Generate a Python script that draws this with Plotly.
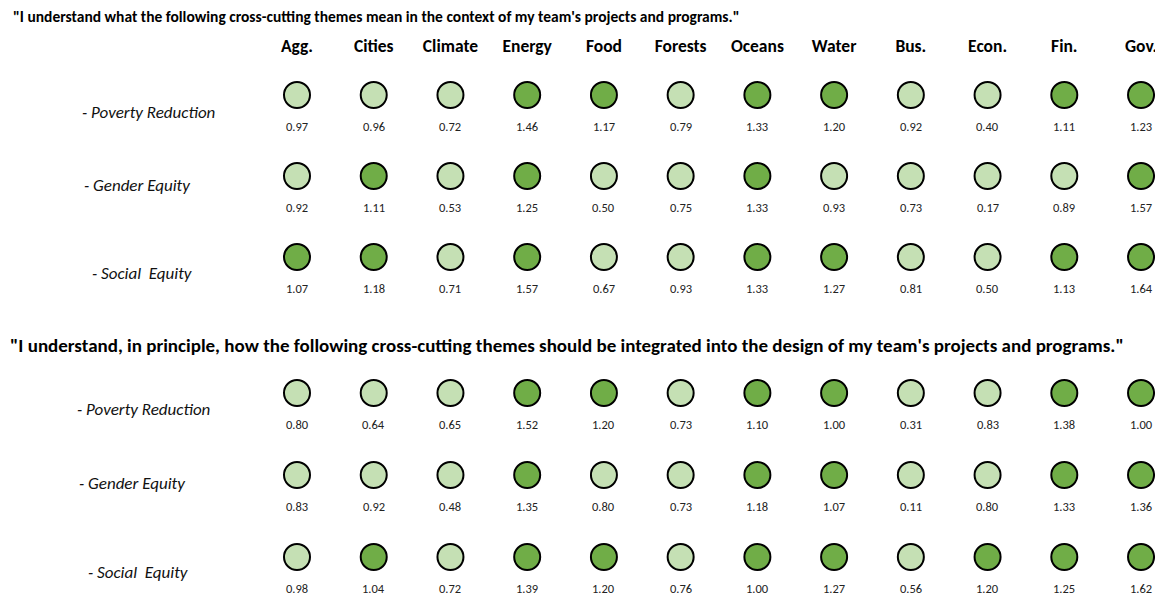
import plotly.graph_objects as go

# ---------------- data ----------------
categories = ["Agg.", "Cities", "Climate", "Energy", "Food", "Forests",
              "Oceans", "Water", "Bus.", "Econ.", "Fin.", "Gov."]
row_labels = ["- Poverty Reduction", "- Gender Equity", "- Social\u00a0 Equity"]

title_1 = "\"I understand what the following cross-cutting themes mean in the context of my team's projects and programs.\""
title_2 = "\"I understand, in principle, how the following cross-cutting themes should be integrated into the design of my team's projects and programs.\""

s1_poverty = [0.97, 0.96, 0.72, 1.46, 1.17, 0.79, 1.33, 1.20, 0.92, 0.40, 1.11, 1.23]
s1_gender  = [0.92, 1.11, 0.53, 1.25, 0.50, 0.75, 1.33, 0.93, 0.73, 0.17, 0.89, 1.57]
s1_social  = [1.07, 1.18, 0.71, 1.57, 0.67, 0.93, 1.33, 1.27, 0.81, 0.50, 1.13, 1.64]

s2_poverty = [0.80, 0.64, 0.65, 1.52, 1.20, 0.73, 1.10, 1.00, 0.31, 0.83, 1.38, 1.00]
s2_gender  = [0.83, 0.92, 0.48, 1.35, 0.80, 0.73, 1.18, 1.07, 0.11, 0.80, 1.33, 1.36]
s2_social  = [0.98, 1.04, 0.72, 1.39, 1.20, 0.76, 1.00, 1.27, 0.56, 1.20, 1.25, 1.62]

threshold = 1.0

# ---------------- style ----------------
W, H = 1163, 595
OFF = 8  # page body margin of the browser
LIGHT = "#C5E0B4"
DARK = "#70AD47"
FONT = "Carlito, Calibri, Lato, 'Liberation Sans', sans-serif"

sections = [
    dict(rows=[s1_poverty, s1_gender, s1_social], xa="x", ya="y",
         label_x=[80, 82, 90], label_dy=[-17, -9, -16]),
    dict(rows=[s2_poverty, s2_gender, s2_social], xa="x2", ya="y2",
         label_x=[75, 77, 86], label_dy=[-16, -8, -15]),
]

fig = go.Figure()
annotations = []

for sec in sections:
    xs, ys, cols = [], [], []
    for r, vals in enumerate(sec["rows"]):
        for c, v in zip(categories, vals):
            xs.append(c)
            ys.append(r)
            cols.append(DARK if v >= threshold else LIGHT)
            annotations.append(dict(
                x=c, y=r, xref=sec["xa"], yref=sec["ya"], yshift=-31,
                text=f"{v:.2f}", showarrow=False,
                font=dict(family=FONT, size=12.5, color="#222222"),
                xanchor="center", yanchor="middle"))
        annotations.append(dict(
            x=(sec["label_x"][r] - OFF) / W, xref="paper", y=r, yref=sec["ya"],
            yshift=sec["label_dy"][r], text=f"<i>{row_labels[r]}</i>",
            showarrow=False, xanchor="left", yanchor="middle",
            font=dict(family=FONT, size=17, color="#111111")))
    fig.add_trace(go.Scatter(
        x=xs, y=ys, xaxis=sec["xa"], yaxis=sec["ya"], mode="markers",
        marker=dict(symbol="circle", size=26, color=cols,
                    line=dict(color="#000000", width=2)),
        hoverinfo="skip", showlegend=False))

annotations.append(dict(x=(11 - OFF) / W, y=1 - (17 - OFF) / H, xref="paper", yref="paper",
                        text=f"<b>{title_1}</b>", showarrow=False,
                        xanchor="left", yanchor="middle",
                        font=dict(family=FONT, size=15.5, color="#000000")))
annotations.append(dict(x=0, y=1 - (345 - OFF) / H, xref="paper", yref="paper",
                        text=f"<b>{title_2}</b>", showarrow=False,
                        xanchor="left", yanchor="middle",
                        font=dict(family=FONT, size=19, color="#000000")))

# x: category i at page pixel 297 + 76.73*i
px_per_cat = 76.73
x0 = -(297 - OFF) / px_per_cat
x1 = x0 + W / px_per_cat
xcommon = dict(type="category", categoryorder="array", categoryarray=categories,
               range=[x0, x1], showgrid=False, zeroline=False, showline=False,
               ticks="", automargin=False, fixedrange=True)

top1 = 56 - OFF          # plot-area top for section 1 (headers sit above it)
row0_1 = 95 - OFF        # first row of section 1
row0_2 = 393 - OFF       # first row of section 2
mid = H / 2
r1_top = -(row0_1 - top1) / 81
r2_top = -(row0_2 - mid) / 82

fig.update_layout(
    width=W, height=H, autosize=False,
    margin=dict(l=0, r=0, t=0, b=0, pad=0),
    paper_bgcolor="white", plot_bgcolor="white",
    xaxis=dict(**xcommon, anchor="y", side="top", showticklabels=True,
               tickfont=dict(family=FONT, size=17.5, color="#000000"),
               tickprefix="<b>", ticksuffix="</b>"),
    xaxis2=dict(**xcommon, anchor="y2", showticklabels=False),
    yaxis=dict(domain=[0.5, 1 - top1 / H],
               range=[r1_top + (mid - top1) / 81, r1_top],
               visible=False, fixedrange=True),
    yaxis2=dict(domain=[0, 0.5],
                range=[r2_top + mid / 82, r2_top],
                visible=False, fixedrange=True),
    annotations=annotations,
)

fig.write_html("out.html")
